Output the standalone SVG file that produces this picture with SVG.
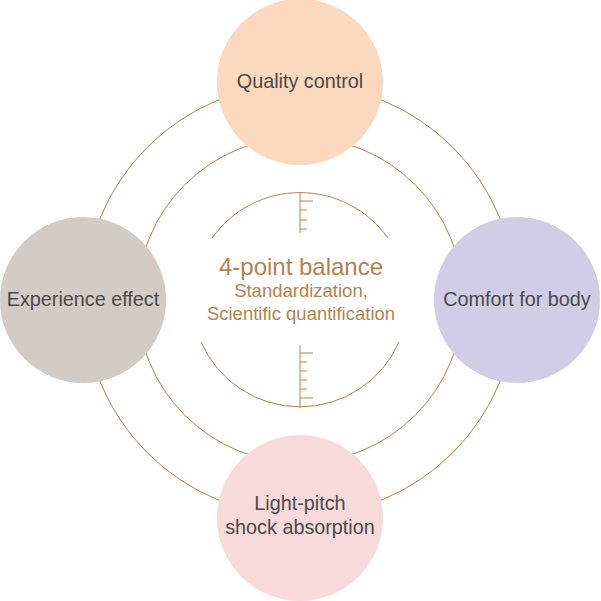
<svg xmlns="http://www.w3.org/2000/svg" width="601" height="601" viewBox="0 0 601 601">
<style>
.ring{fill:none;stroke:#B5824E;stroke-width:1}
.lbl{font-family:"Liberation Sans",Arial,sans-serif;font-size:19.8px;fill:#4A4A4A;text-anchor:middle}
.c{font-family:"Liberation Sans",Arial,sans-serif;fill:#B5824E;text-anchor:middle}
</style>
<rect width="601" height="601" fill="#fff"/>
<g id="connectors">
<circle class="ring" cx="300" cy="300" r="216"/>
<circle class="ring" cx="300" cy="300" r="163"/>
<path class="ring" d="M212,238 A108,108 0 0 1 388,238"/>
<path class="ring" d="M201,342 A108,108 0 0 0 399,342"/>
<g stroke="#B5824E" stroke-width="1">
<line x1="300" y1="192" x2="300" y2="233"/>
<line x1="300" y1="201" x2="313" y2="201"/>
<line x1="300" y1="210" x2="307" y2="210"/>
<line x1="300" y1="220" x2="307" y2="220"/>
<line x1="300" y1="229" x2="307" y2="229"/>
<line x1="300" y1="345" x2="300" y2="408"/>
<line x1="300" y1="353" x2="313" y2="353"/>
<line x1="300" y1="362" x2="307" y2="362"/>
<line x1="300" y1="371" x2="307" y2="371"/>
<line x1="300" y1="380" x2="307" y2="380"/>
<line x1="300" y1="389" x2="307" y2="389"/>
<line x1="300" y1="398" x2="313" y2="398"/>
</g>
</g>
<g id="center">
<text class="c" x="301" y="275" font-size="24">4-point balance</text>
<text class="c" x="301" y="297" font-size="18.5">Standardization,</text>
<text class="c" x="301" y="320" font-size="18.5">Scientific quantification</text>
</g>
<g id="quality"><circle cx="300" cy="82" r="83" fill="#FAD9BE"/><text class="lbl" x="300" y="88">Quality control</text></g>
<g id="experience"><circle cx="83" cy="300" r="83" fill="#D3CCC6"/><text class="lbl" x="83" y="306">Experience effect</text></g>
<g id="comfort"><circle cx="517" cy="300" r="83" fill="#D2CDE6"/><text class="lbl" x="517" y="306">Comfort for body</text></g>
<g id="light"><circle cx="300" cy="518" r="83" fill="#F9DADA"/><text class="lbl" x="300" y="510">Light-pitch</text><text class="lbl" x="300" y="534">shock absorption</text></g>
</svg>
